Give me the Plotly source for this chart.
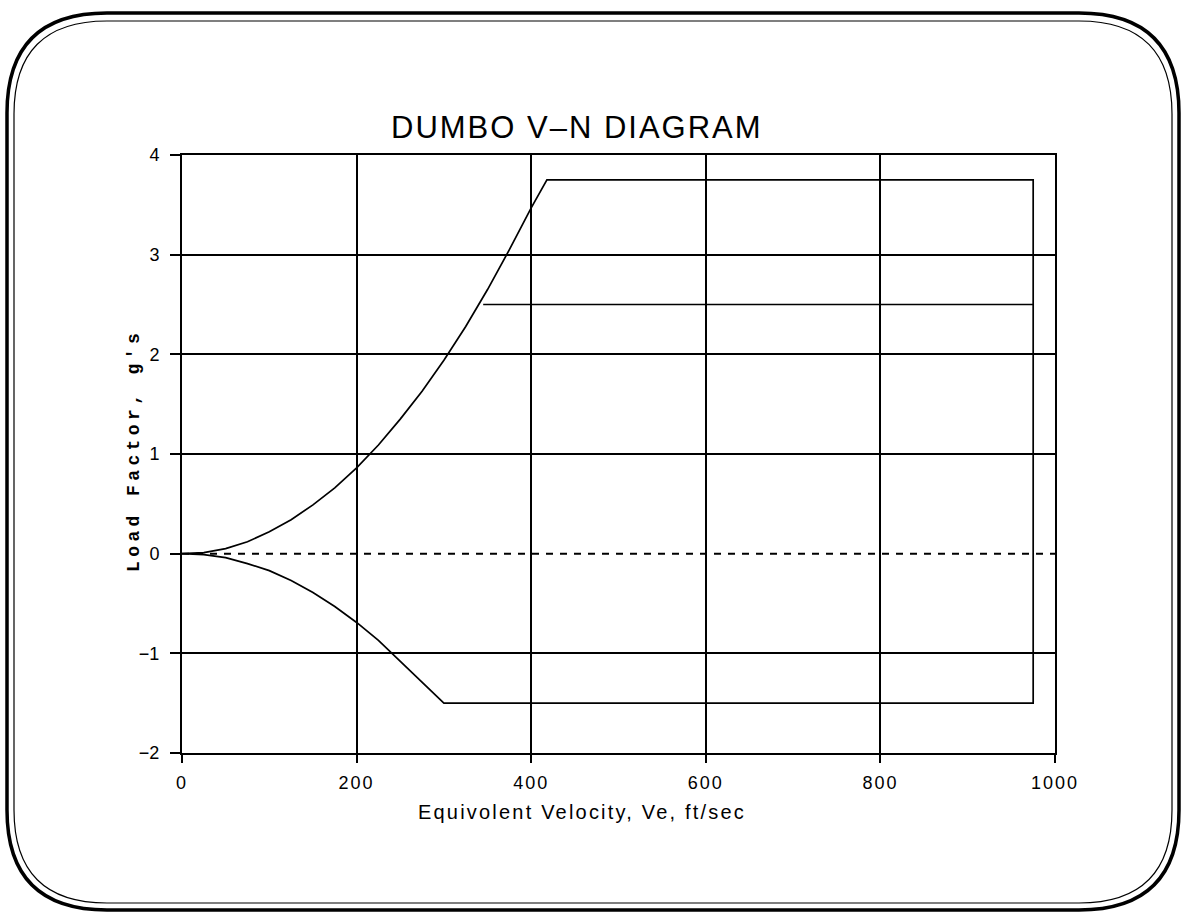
import plotly.graph_objects as go

# ---- data ----
pos_v = [0, 25, 50, 75, 100, 125, 150, 175, 200, 225, 250, 275, 300, 325, 350, 375, 400, 418]
pos_n = [0, 0.01, 0.05, 0.12, 0.22, 0.34, 0.49, 0.66, 0.86, 1.09, 1.35, 1.63, 1.94, 2.28, 2.65, 3.05, 3.47, 3.75]
neg_v = [0, 25, 50, 75, 100, 125, 150, 175, 200, 225, 250, 275, 300]
neg_n = [0, -0.01, -0.04, -0.10, -0.17, -0.27, -0.39, -0.53, -0.69, -0.87, -1.07, -1.29, -1.5]
v_dive = 975
n_max = 3.75
n_min = -1.5
gust_v = [345, 975]
gust_n = [2.5, 2.5]
zero_v = [0, 1000]
zero_n = [0, 0]
x_ticks = [0, 200, 400, 600, 800, 1000]
x_labels = ["0", "200", "400", "600", "800", "1000"]
y_ticks = [-2, -1, 0, 1, 2, 3, 4]
y_labels = ["−2", "−1", "0", "1", "2", "3", "4"]
y_grid = [-2, -1, 1, 2, 3, 4]

# envelope: up the positive stall curve, across the top, down the dive edge,
# back along the bottom and up the negative stall curve
env_v = pos_v + [v_dive, v_dive, neg_v[-1]] + neg_v[::-1]
env_n = pos_n + [n_max, n_min, n_min] + neg_n[::-1]

W, H = 1184, 918
L, R, T, B = 182, 1055, 155, 753

def px(X):
    return (X - L) / (R - L)

def py(Y):
    return (B - Y) / (B - T)

def rrect(x0, y0, x1, y1, r):
    pts = [
        ("M", [(x0 + r, y0)]), ("L", [(x1 - r, y0)]), ("Q", [(x1, y0), (x1, y0 + r)]),
        ("L", [(x1, y1 - r)]), ("Q", [(x1, y1), (x1 - r, y1)]),
        ("L", [(x0 + r, y1)]), ("Q", [(x0, y1), (x0, y1 - r)]),
        ("L", [(x0, y0 + r)]), ("Q", [(x0, y0), (x0 + r, y0)]),
    ]
    s = ""
    for cmd, ps in pts:
        s += cmd + " ".join(f"{px(a):.5f},{py(b):.5f}" for a, b in ps) + " "
    return s + "Z"

def spaced(t, sp):
    return f'<span style="letter-spacing:{sp}px">{t}</span>'

fig = go.Figure()
fig.add_trace(go.Scatter(x=zero_v, y=zero_n, mode="lines",
                         line=dict(color="black", width=2, dash="7px,7px"),
                         showlegend=False, hoverinfo="skip"))
fig.add_trace(go.Scatter(x=gust_v, y=gust_n, mode="lines",
                         line=dict(color="black", width=1.7),
                         showlegend=False))
fig.add_trace(go.Scatter(x=env_v, y=env_n, mode="lines",
                         line=dict(color="black", width=1.7),
                         showlegend=False))

fig.update_layout(
    width=W, height=H,
    margin=dict(l=L, r=W - R, t=T, b=H - B),
    paper_bgcolor="white", plot_bgcolor="white",
    font=dict(family="Liberation Sans, Arial, sans-serif", color="black", size=18),
    xaxis=dict(range=[0, 1000], tickvals=x_ticks,
               ticktext=[spaced(t, 2) for t in x_labels],
               showgrid=True, gridcolor="black",
               gridwidth=1.8, zeroline=False, showline=True, mirror=True,
               linecolor="black", linewidth=2, ticks="outside", ticklen=8,
               tickcolor="black", tickwidth=1.5, tickfont=dict(size=18),
               ticklabelstandoff=4),
    yaxis=dict(range=[-2, 4], tickvals=y_ticks, ticktext=y_labels,
               showgrid=False, zeroline=False,
               showline=True, mirror=True, linecolor="black", linewidth=2,
               ticks="outside", ticklen=10, tickcolor="black", tickwidth=1.5,
               tickfont=dict(size=18), ticklabelstandoff=7,
               minor=dict(tickvals=y_grid, showgrid=True, gridcolor="black",
                          gridwidth=1.8, ticks="")),
    annotations=[
        dict(text=spaced("DUMBO V–N DIAGRAM", 2),
             xref="paper", yref="paper", x=px(577), y=py(128),
             xanchor="center", yanchor="middle", showarrow=False,
             font=dict(size=31, family="Liberation Sans, Arial, sans-serif")),
        dict(text=spaced("Equivolent Velocity, Ve, ft/sec", 2.2),
             xref="paper", yref="paper", x=px(582), y=py(812),
             xanchor="center", yanchor="middle", showarrow=False,
             font=dict(size=20, family="Liberation Sans, Arial, sans-serif")),
        dict(text=spaced("Load Factor, g's", 4.4),
             xref="paper", yref="paper", x=px(134), y=py(451),
             xanchor="center", yanchor="middle", showarrow=False, textangle=-90,
             font=dict(size=18, weight="bold",
                       family="Liberation Mono, DejaVu Sans Mono, monospace")),
    ],
    shapes=[
        dict(type="path", xref="paper", yref="paper",
             path=rrect(7, 13, 1179, 910, 100),
             line=dict(color="black", width=3.5)),
        dict(type="path", xref="paper", yref="paper",
             path=rrect(14, 21, 1172, 903, 93),
             line=dict(color="black", width=1.2)),
    ],
)

fig.write_html("out.html", config={"displayModeBar": False},
               post_script="document.body.style.margin='0';")
